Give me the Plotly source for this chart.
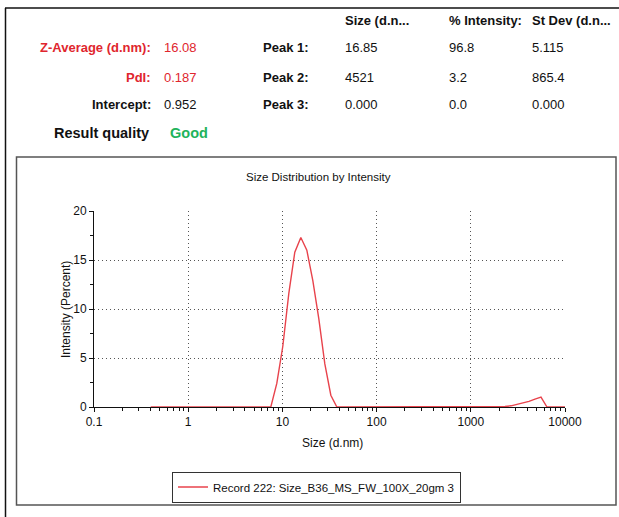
import plotly.graph_objects as go

# ---------------- data ----------------
sizes = [0.4, 0.4632, 0.5365, 0.6213, 0.7195, 0.8332, 0.9649, 1.117, 1.294, 1.499,
         1.736, 2.010, 2.328, 2.696, 3.122, 3.615, 4.187, 4.849, 5.615, 6.503,
         7.531, 8.721, 10.10, 11.70, 13.54, 15.69, 18.17, 21.04, 24.36, 28.21,
         32.67, 37.84, 43.82, 50.75, 58.77, 68.06, 78.82, 91.28, 105.7, 122.4,
         141.8, 164.2, 190.1, 220.2, 255.0, 295.3, 342.0, 396.1, 458.7, 531.2,
         615.1, 712.4, 825.0, 955.4, 1106, 1281, 1484, 1718, 1990, 2305,
         2669, 3091, 3580, 4146, 4801, 5560, 6439, 7456, 8635, 10000]
intensity = [0.0] * 21 + [2.4, 6.2, 11.6, 15.8, 17.3, 16.0, 12.9, 9.0, 4.4, 1.2] + \
            [0.0] * 28 + [0.05, 0.12, 0.25, 0.4, 0.58, 0.8, 1.0] + [0.0] * 4

x_tick_vals = [0.1, 1, 10, 100, 1000, 10000]
x_tick_text = ["0.1", "1", "10", "100", "1000", "10000"]
y_tick_vals = [0, 5, 10, 15, 20]

series_name = "Record 222: Size_B36_MS_FW_100X_20gm 3"

summary_labels = ["Z-Average (d.nm):", "PdI:", "Intercept:"]
summary_values = ["16.08", "0.187", "0.952"]
summary_colors = ["#e0262e", "#e0262e", "#111111"]

peak_headers = ["Size (d.n...", "% Intensity:", "St Dev (d.n..."]
peak_labels = ["Peak 1:", "Peak 2:", "Peak 3:"]
peak_size = ["16.85", "4521", "0.000"]
peak_int = ["96.8", "3.2", "0.0"]
peak_sd = ["5.115", "865.4", "0.000"]

quality_label = "Result quality"
quality_value = "Good"

# ---------------- layout helpers ----------------
W, H = 619, 517
PL, PR, PT, PB = 94, 565, 211, 407


def fx(p):
    return (p - PL) / (PR - PL)


def fy(p):
    return (PB - p) / (PB - PT)


FONT = "Liberation Sans, Arial, sans-serif"
minor_x = [m * d for d in [0.1, 1, 10, 100, 1000] for m in range(2, 10)]

fig = go.Figure()
fig.add_trace(go.Scatter(x=sizes, y=intensity, mode="lines", name=series_name,
                         line=dict(color="#e8434c", width=1.4), showlegend=True))

annotations = []


def txt(t, x, y, anchor="left", color="#111111", size=13, bold=False):
    annotations.append(dict(text=("<b>%s</b>" % t) if bold else t, x=fx(x), y=fy(y),
                            xref="paper", yref="paper", xanchor=anchor, yanchor="middle",
                            showarrow=False, font=dict(family=FONT, size=size, color=color)))


rows_y = [47, 77, 105]
for i in range(3):
    txt(summary_labels[i], 153, rows_y[i], "right", summary_colors[i], 13, True)
    txt(summary_values[i], 162, rows_y[i], "left", summary_colors[i], 13)
    txt(peak_labels[i], 311, rows_y[i], "right", "#111111", 13, True)
    txt(peak_size[i], 343, rows_y[i])
    txt(peak_int[i], 447, rows_y[i])
    txt(peak_sd[i], 530, rows_y[i])
for hx, h in zip([343, 447, 530], peak_headers):
    txt(h, hx, 20, "left", "#111111", 13, True)
txt(quality_label, 151, 133, "right", "#111111", 14.5, True)
txt(quality_value, 168, 133, "left", "#22b35b", 14.5, True)

txt("Size Distribution by Intensity", 318, 177, "center", "#111111", 11.5)
txt("Intensity (Percent)", 0, 0, "center", "#111111", 12)
annotations[-1].update(x=fx(66), y=fy(310), textangle=-90)
txt("Size (d.nm)", 332, 443, "center", "#111111", 12)

shapes = [
    dict(type="line", xref="paper", yref="paper", x0=fx(5.5), x1=fx(5.5), y0=fy(8), y1=fy(530),
         line=dict(color="#111111", width=1.5)),
    dict(type="line", xref="paper", yref="paper", x0=fx(5), x1=fx(640), y0=fy(8), y1=fy(8),
         line=dict(color="#111111", width=1.5)),
    dict(type="rect", xref="paper", yref="paper", x0=fx(16.5), x1=fx(616), y0=fy(157), y1=fy(505),
         line=dict(color="#555555", width=1.5)),
]

axis_common = dict(showline=True, linecolor="#111111", linewidth=1, tickcolor="#111111",
                   tickfont=dict(family=FONT, size=12, color="#111111"), zeroline=False)
GRID_DASH = "1px,3px"

fig.update_layout(
    width=W, height=H,
    margin=dict(l=PL, r=W - PR, t=PT, b=H - PB, pad=0),
    paper_bgcolor="white", plot_bgcolor="white",
    font=dict(family=FONT, color="#111111"),
    annotations=annotations, shapes=shapes,
    showlegend=True,
    legend=dict(x=fx(172), y=fy(487), xanchor="left", yanchor="middle",
                bordercolor="#333333", borderwidth=1, bgcolor="white",
                font=dict(family=FONT, size=11.5, color="#111111"),
                itemwidth=30, tracegroupgap=0),
    xaxis=dict(type="log", range=[-1, 4], tickvals=x_tick_vals, ticktext=x_tick_text,
               ticks="outside", ticklen=4, showgrid=True, gridcolor="#555555", griddash=GRID_DASH,
               gridwidth=1, layer="below traces",
               minor=dict(tickvals=minor_x, ticks="outside", ticklen=3, tickcolor="#111111",
                          showgrid=False), **axis_common),
    xaxis2=dict(type="log", range=[-1, 4], overlaying="x", anchor="y", side="bottom",
                tickvals=x_tick_vals, ticks="inside", ticklen=3, showticklabels=False,
                showgrid=False, showline=False, tickcolor="#111111", zeroline=False,
                minor=dict(tickvals=minor_x, ticks="inside", ticklen=3, tickcolor="#111111",
                           showgrid=False)),
    yaxis=dict(range=[0, 20], tickvals=y_tick_vals, ticks="outside", ticklen=4,
               showgrid=True, gridcolor="#555555", griddash=GRID_DASH, gridwidth=1,
               layer="below traces",
               minor=dict(dtick=2.5, ticks="outside", ticklen=3, tickcolor="#111111",
                          showgrid=False), **axis_common),
    yaxis2=dict(range=[0, 20], overlaying="y", anchor="x", side="left",
                tickvals=y_tick_vals, ticks="inside", ticklen=3, showticklabels=False,
                showgrid=False, showline=False, tickcolor="#111111", zeroline=False,
                minor=dict(dtick=2.5, ticks="inside", ticklen=3, tickcolor="#111111",
                           showgrid=False)),
)

fig.write_html("out.html", config={"displayModeBar": False},
               post_script="document.body.style.margin='0px';")
